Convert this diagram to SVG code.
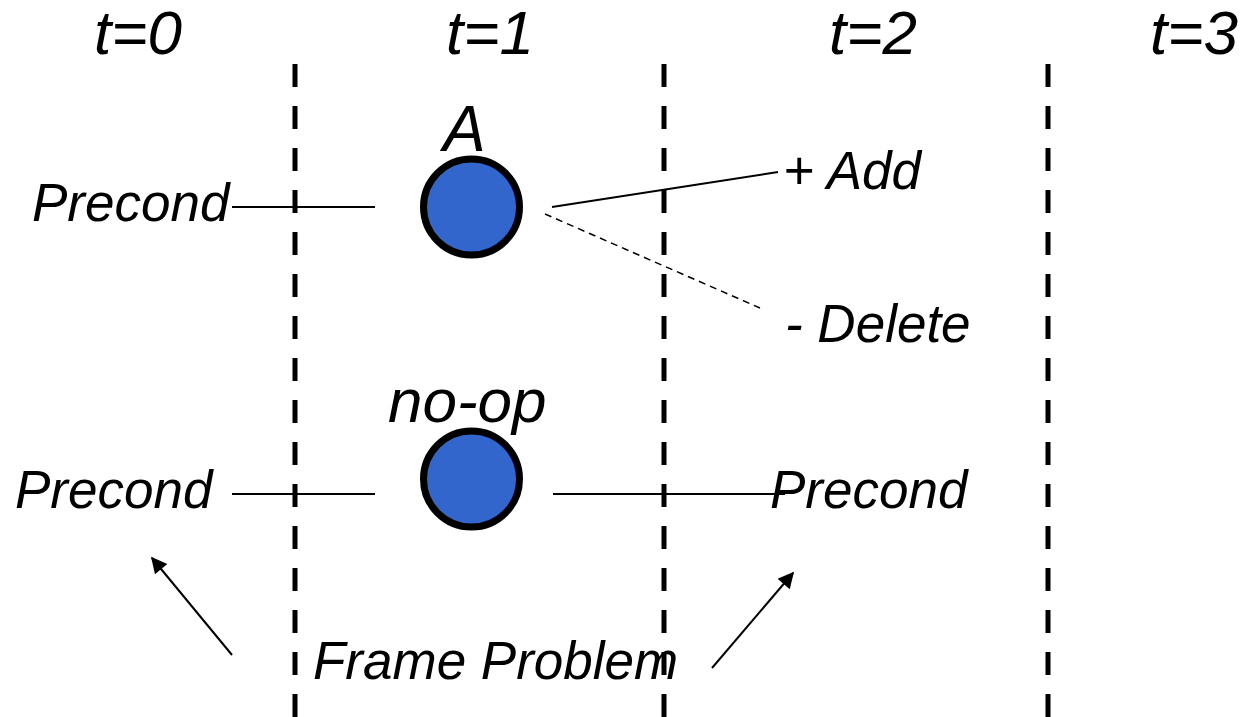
<svg xmlns="http://www.w3.org/2000/svg" width="1245" height="717" viewBox="0 0 1245 717">
<style>
text{font-family:"Liberation Sans",Arial,sans-serif;font-style:italic;font-size:53px;fill:#000}
.t{font-size:62px}
.div{stroke:#000;stroke-width:5;stroke-dasharray:23 19;fill:none}
.ln{stroke:#000;stroke-width:2;fill:none}
.dl{stroke:#000;stroke-width:1.5;stroke-dasharray:7 5;fill:none}
.op{fill:#3366CC;stroke:#000;stroke-width:7}
</style>
<defs>
<marker id="ah" viewBox="0 0 10 10" refX="9" refY="5" markerWidth="19" markerHeight="16" orient="auto" markerUnits="userSpaceOnUse"><path d="M0,0 L10,5 L0,10 z" fill="#000"/></marker>
</defs>
<g id="dividers">
<line class="div" x1="295" y1="64" x2="295" y2="717"/>
<line class="div" x1="664" y1="64" x2="664" y2="717"/>
<line class="div" x1="1048" y1="64" x2="1048" y2="717"/>
</g>
<g id="time-labels">
<text class="t" x="94" y="54">t=0</text>
<text class="t" x="446" y="54">t=1</text>
<text class="t" x="829" y="54">t=2</text>
<text class="t" x="1150" y="54">t=3</text>
</g>
<g id="connectors">
<line class="ln" x1="232" y1="207" x2="375" y2="207"/>
<line class="ln" x1="552" y1="207" x2="778" y2="172"/>
<line class="dl" x1="545" y1="214" x2="760" y2="308"/>
<line class="ln" x1="232" y1="494" x2="375" y2="494"/>
<line class="ln" x1="553" y1="494" x2="785" y2="494"/>
<line class="ln" x1="232" y1="655" x2="152" y2="558" marker-end="url(#ah)"/>
<line class="ln" x1="712" y1="668" x2="793" y2="573" marker-end="url(#ah)"/>
</g>
<g id="node-A">
<circle class="op" cx="471.5" cy="207" r="48"/>
<text class="t" x="443" y="151" style="font-size:64px">A</text>
</g>
<g id="node-noop">
<circle class="op" cx="471.5" cy="479" r="48"/>
<text class="t" x="388" y="422">no-op</text>
</g>
<g id="precond-top"><text x="32" y="221">Precond</text></g>
<g id="add"><text x="783" y="189">+ Add</text></g>
<g id="delete"><text x="785" y="342">- Delete</text></g>
<g id="precond-bl"><text x="15" y="508">Precond</text></g>
<g id="precond-br"><text x="770" y="508">Precond</text></g>
<g id="frame"><text x="313" y="679">Frame Problem</text></g>
</svg>
